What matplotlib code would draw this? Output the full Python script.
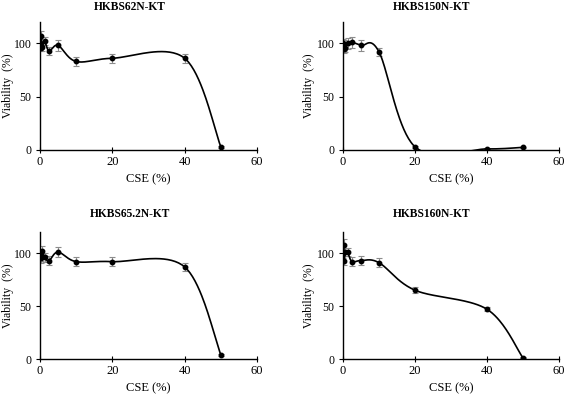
#!/usr/bin/env python3

# cell viability vs CSE for four HKBS lines

import matplotlib.pyplot as plt
import numpy as np

plt.rcParams['font.family'] = ['Liberation Serif', 'DejaVu Serif']

cse = [0, 0.16, 0.31, 0.63, 1.25, 2.5, 5, 10, 20, 40, 50]

names = ['HKBS62N-KT', 'HKBS150N-KT', 'HKBS65.2N-KT', 'HKBS160N-KT']

via_62 = [100, 96, 107, 97, 102, 93, 98, 83, 86, 86, 3]
err_62 = [4, 3, 5, 4, 4, 4, 5, 4, 4, 4, 1]

via_150 = [100, 95, 98, 96, 100, 101, 98, 92, 3, 1, 2.5]
err_150 = [4, 4, 5, 4, 5, 5, 5, 4, 1, 0.5, 0.5]

via_652 = [100, 97, 95, 102, 96, 93, 101, 92, 92, 87, 4]
err_652 = [4, 4, 4, 5, 4, 4, 5, 4, 4, 4, 1]

via_160 = [100, 108, 93, 101, 101, 92, 93, 91, 65, 47, 1]
err_160 = [5, 5, 4, 4, 4, 4, 4, 4, 3, 2, 0.5]

series = [(via_62, err_62), (via_150, err_150), (via_652, err_652), (via_160, err_160)]

# pixel boxes (left, top, right, bottom) of each plot area in a 567x395 figure
W, H = 567.0, 395.0
boxes = [(40, 22, 257, 150), (343, 22, 559, 150),
         (40, 232, 257, 359), (343, 232, 559, 359)]
title_pos = [(130, 7), (432, 7), (130, 214), (432, 214)]
ylab_x = [8, 309, 8, 309]


def smooth(x, y, n=40):
    """Excel-like smoothed line: Catmull-Rom bezier through the points"""
    p = np.column_stack([x, y]).astype(float)
    p = np.vstack([p[0], p, p[-1]])
    out = []
    t = np.linspace(0, 1, n)[:, None]
    for i in range(1, len(p) - 2):
        b0 = p[i]
        b3 = p[i + 1]
        b1 = b0 + (p[i + 1] - p[i - 1]) / 6.0
        b2 = b3 - (p[i + 2] - p[i]) / 6.0
        seg = ((1 - t) ** 3) * b0 + 3 * ((1 - t) ** 2) * t * b1 \
            + 3 * (1 - t) * t ** 2 * b2 + t ** 3 * b3
        out.append(seg)
    out = np.vstack(out)
    return out[:, 0], out[:, 1]


fig = plt.figure(figsize=(5.67, 3.95), dpi=100)

for k, (via, err) in enumerate(series):
    l, t, r, b = boxes[k]
    ax = fig.add_axes([l / W, 1 - b / H, (r - l) / W, (b - t) / H])
    sx, sy = smooth(cse, via)
    ax.plot(sx, sy, color='black', lw=1.2, zorder=3)
    ax.errorbar(cse, via, yerr=err, fmt='none', ecolor='#8c8c8c',
                elinewidth=0.8, capsize=2, capthick=0.8, zorder=2)
    ax.plot(cse, via, 'o', color='black', ms=3.2, zorder=4)

    ax.set_xlim(0, 60)
    ax.set_ylim(0, 120)
    ax.set_xticks([0, 20, 40, 60])
    ax.set_yticks([0, 50, 100])
    for s in ['top', 'right']:
        ax.spines[s].set_visible(False)
    for s in ['left', 'bottom']:
        ax.spines[s].set_linewidth(1.0)
    ax.tick_params(axis='x', direction='inout', length=4, width=0.8,
                   labelsize=9, pad=2)
    ax.tick_params(axis='y', direction='out', length=3, width=0.8,
                   labelsize=8.5, pad=3)
    ax.set_xlabel('CSE (%)', fontsize=9, labelpad=4)
    ax.set_ylabel('Viability  (%)', fontsize=8.5, va='center')
    ax.yaxis.set_label_coords((ylab_x[k] - l) / (r - l), 0.5)

    tx, ty = title_pos[k]
    fig.text(tx / W, 1 - ty / H, names[k], ha='center', va='center',
             fontsize=8.3, fontweight='bold')

plt.savefig('out.png', dpi=100)
